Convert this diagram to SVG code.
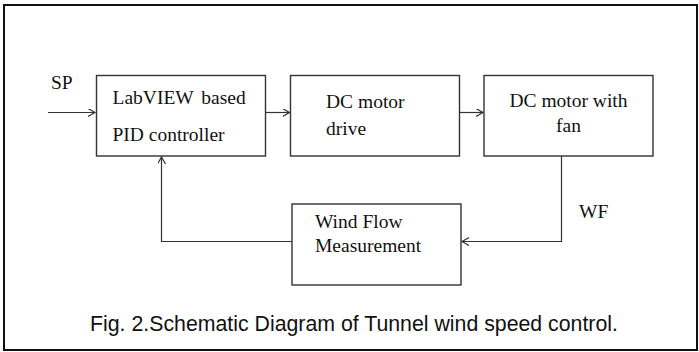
<svg xmlns="http://www.w3.org/2000/svg" width="699" height="352" viewBox="0 0 699 352">
<style>
.box{fill:#fff;stroke:#333;stroke-width:1.4}
.t{font-family:"Liberation Serif","Times New Roman",serif;font-size:19.5px;fill:#111}
.c{stroke:#333;stroke-width:1.2;fill:none}
.cap{font-family:"Liberation Sans",Arial,sans-serif;font-size:21.3px;fill:#111}
</style>
<defs>
<marker id="ah" markerWidth="10" markerHeight="10" refX="7" refY="4" orient="auto" markerUnits="userSpaceOnUse">
<path d="M0,0 L7,4 L0,8" fill="none" stroke="#333" stroke-width="1.2"/>
</marker>
</defs>
<rect x="0" y="0" width="699" height="352" fill="#fff"/>
<rect x="4" y="5" width="693" height="345" fill="none" stroke="#111" stroke-width="2"/>
<g id="connectors">
<path class="c" d="M48,112.5 H95" marker-end="url(#ah)"/>
<path class="c" d="M266,112.5 H289.5" marker-end="url(#ah)"/>
<path class="c" d="M459.5,112.5 H483" marker-end="url(#ah)"/>
<path class="c" d="M561.5,156 V241.5 H462" marker-end="url(#ah)"/>
<path class="c" d="M292,241.5 H161.5 V157" marker-end="url(#ah)"/>
</g>
<g id="sp"><text class="t" x="51" y="89">SP</text></g>
<g id="wf"><text class="t" x="579" y="218">WF</text></g>
<g id="pid">
<rect class="box" x="96.5" y="75.5" width="169" height="80.5"/>
<text class="t" x="112.5" y="104" word-spacing="3">LabVIEW based</text>
<text class="t" x="112.5" y="141">PID controller</text>
</g>
<g id="drive">
<rect class="box" x="290.5" y="75.5" width="169" height="80.5"/>
<text class="t" x="326" y="108">DC motor</text>
<text class="t" x="326" y="135">drive</text>
</g>
<g id="motor">
<rect class="box" x="484" y="75.5" width="169" height="80.5"/>
<text class="t" x="568.5" y="107" text-anchor="middle">DC motor with</text>
<text class="t" x="568.5" y="132" text-anchor="middle">fan</text>
</g>
<g id="measure">
<rect class="box" x="292" y="204" width="169" height="81"/>
<text class="t" x="315" y="228">Wind Flow</text>
<text class="t" x="315" y="251.5">Measurement</text>
</g>
<text class="cap" x="90" y="331">Fig. 2.Schematic Diagram of Tunnel wind speed control.</text>
</svg>
